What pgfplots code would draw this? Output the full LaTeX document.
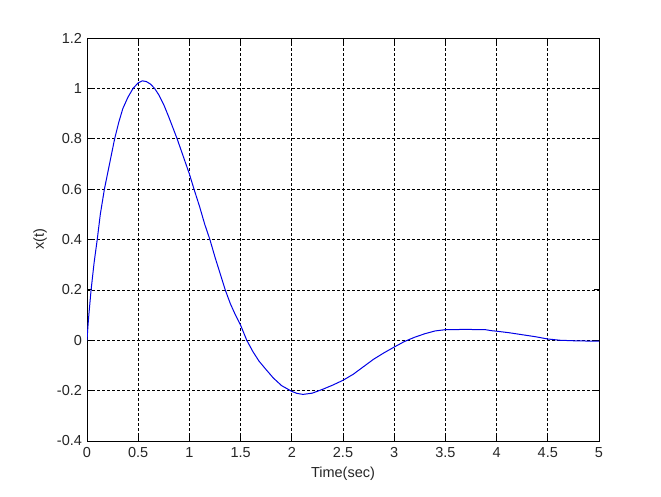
\documentclass[border=0pt]{standalone}
\usepackage{pgfplots}
\pgfplotsset{compat=1.18}
\usepackage{fontspec}
\setmainfont{Liberation Sans}
\begin{document}
\fontsize{14.5}{17}\selectfont
\begin{tikzpicture}[x=1pt,y=1pt]
\path[use as bounding box, fill=white] (0,0) rectangle (661,496);
\begin{axis}[
  at={(87pt,55pt)}, anchor=south west,
  scale only axis, width=512pt, height=403pt,
  xmin=0, xmax=5, ymin=-0.4, ymax=1.2,
  xtick={0,0.5,...,5}, ytick={-0.4,-0.2,0,0.2,0.4,0.6,0.8,1,1.2},
  xticklabels={0,0.5,1,1.5,2,2.5,3,3.5,4,4.5,5},
  yticklabels={-0.4,-0.2,0,0.2,0.4,0.6,0.8,1,1.2},
  /pgf/number format/assume math mode=true,
  tick align=inside, major tick length=5pt,
  xtick pos=both, ytick pos=both,
  grid=major,
  major grid style={black, line width=0.7pt, dash pattern=on 3pt off 2pt},
  axis line style={black, line width=0.9pt},
  tick style={black, line width=0.8pt},
  ticklabel style={font=\fontsize{14.5}{17}\selectfont, text=black!85},
  xticklabel style={yshift=-1pt},
  yticklabel style={xshift=0pt},
  xlabel={Time(sec)}, ylabel={x(t)},
  label style={font=\fontsize{14.5}{17}\selectfont, text=black!85},
  xlabel style={at={(axis description cs:0.5,0)}, anchor=center, yshift=-33pt},
  ylabel style={at={(axis description cs:0,0.5)}, anchor=center, yshift=47pt},
]
\addplot[color={rgb,255:red,0;green,0;blue,230}, line width=1pt, line join=round] coordinates {
(0,0) (0.01,0.06) (0.02,0.11) (0.04,0.2) (0.07,0.31) (0.1,0.4) (0.13,0.5) (0.17,0.6)
(0.22,0.7) (0.27,0.8) (0.31,0.865) (0.35,0.92) (0.4,0.965) (0.45,1.0) (0.5,1.022) (0.54,1.03)
(0.58,1.027) (0.62,1.017) (0.66,1.0) (0.7,0.975) (0.75,0.935) (0.8,0.885) (0.88,0.8) (0.94,0.73)
(1.0,0.66) (1.045,0.6) (1.1,0.53) (1.15,0.46) (1.2,0.4) (1.25,0.33) (1.3,0.265) (1.35,0.2)
(1.4,0.145) (1.45,0.1) (1.5,0.06) (1.56,0.0) (1.62,-0.045) (1.68,-0.083) (1.75,-0.117) (1.82,-0.15)
(1.9,-0.18) (2.0,-0.203) (2.05,-0.211) (2.11,-0.215) (2.2,-0.21) (2.3,-0.195) (2.4,-0.178)
(2.5,-0.159) (2.6,-0.135) (2.7,-0.105) (2.8,-0.075) (2.9,-0.05) (3.0,-0.027) (3.1,-0.005)
(3.2,0.012) (3.3,0.026) (3.4,0.037) (3.5,0.042) (3.7,0.043) (3.89,0.042) (3.95,0.038)
(4.0,0.036) (4.12,0.03) (4.25,0.022) (4.38,0.014) (4.5,0.005) (4.62,0.0) (4.75,-0.002)
(4.87,-0.003) (5.0,-0.003)
};
\end{axis}
\end{tikzpicture}
\end{document}
